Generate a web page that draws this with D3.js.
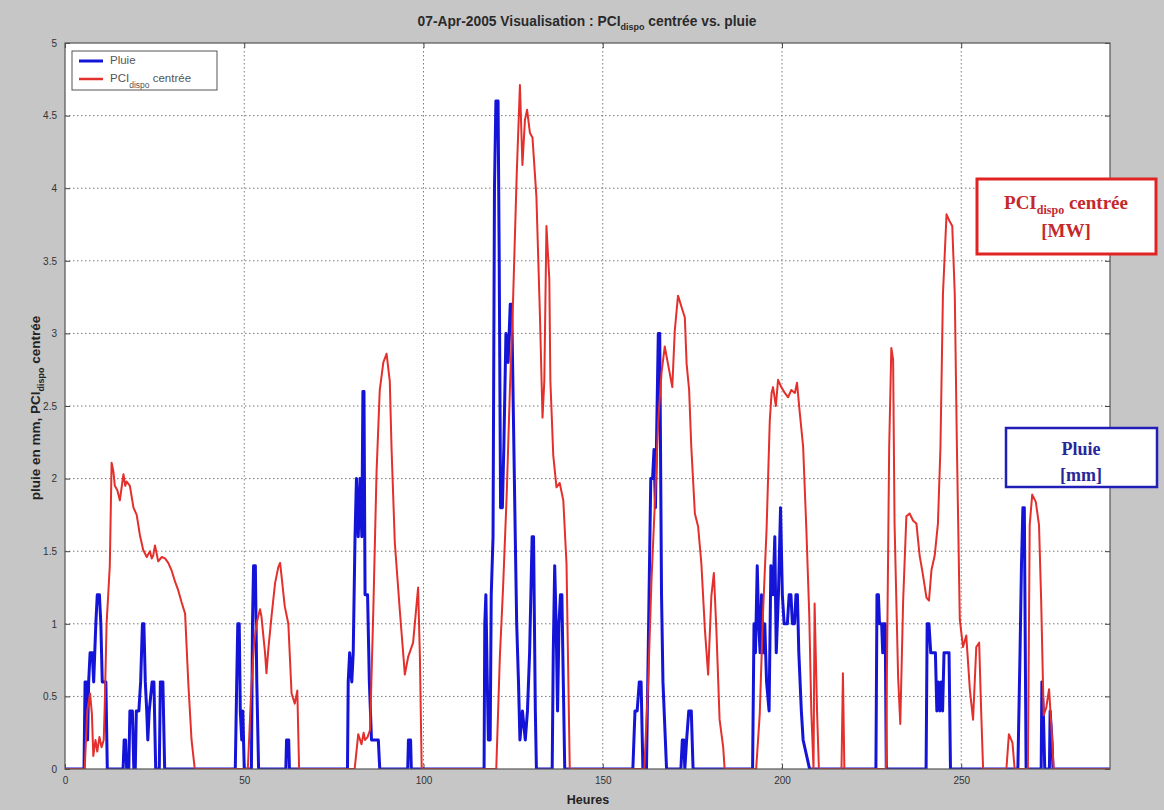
<!DOCTYPE html>
<html>
<head>
<meta charset="utf-8">
<script src="https://cdn.jsdelivr.net/npm/d3@7"></script>
<style>
  html, body { margin: 0; padding: 0; background: #c6c6c6; }
  svg { display: block; }
</style>
</head>
<body>
<svg id="chart" width="1164" height="810"></svg>
<script>
// ---------- data ----------
const xTicks = [0, 50, 100, 150, 200, 250];
const yTicks = [0, 0.5, 1, 1.5, 2, 2.5, 3, 3.5, 4, 4.5, 5];
const xMax = 291.5;

const pluieHeures = [
  0, 5.3, 5.6, 6.0, 6.3, 6.6, 7.0, 7.6, 8.0, 8.6, 9.0, 9.6, 10.0, 10.4, 11.4, 11.8,
  16.2, 16.5, 16.9, 17.2, 17.8, 18.1, 18.8, 19.2, 19.6, 19.9, 20.6, 21.1, 21.6, 22.0, 22.4, 22.8, 23.1, 23.5, 24.3, 24.8, 25.3, 26.3, 26.6, 27.3, 27.8,
  47.5, 47.9, 48.2, 48.6, 48.9, 49.3, 49.6, 50.0, 52.0, 52.3, 52.6, 53.1, 53.5, 54.0, 61.6, 61.8, 62.4, 62.6,
  78.8, 79.0, 79.4, 80.0, 80.4, 80.9, 81.3, 81.8, 82.3, 82.8, 83.1, 83.4, 83.7, 84.4, 84.9, 85.5, 87.4, 87.8, 95.6, 95.8, 96.4, 96.6,
  116.9, 117.1, 117.4, 117.8, 118.1, 118.6, 118.9, 119.4, 119.8, 120.2, 120.8, 121.1, 121.5, 122.0, 122.4, 123.0, 123.6, 124.2, 124.6, 125.1, 125.6, 126.0, 126.5, 126.9, 127.6, 128.4, 129.0, 129.6, 130.3, 130.7, 131.2, 131.5,
  135.9, 136.2, 136.6, 137.0, 137.4, 137.8, 138.2, 138.6, 139.0, 139.4,
  158.4, 159.0, 159.6, 160.2, 160.7, 161.2, 162.2, 162.8, 163.4, 163.9, 164.3, 164.7, 165.1, 165.5, 165.9, 166.4, 166.8, 167.8,
  171.8, 172.2, 172.6, 172.9, 173.4, 174.0, 174.7, 175.2,
  191.8, 192.2, 192.6, 193.1, 193.5, 193.9, 194.3, 194.8, 195.2, 195.7, 196.4, 196.9, 197.5, 198.0, 198.4, 199.0, 199.6, 200.1, 200.6, 201.5, 202.0, 202.5, 202.9, 203.5, 203.9, 204.3, 204.7, 205.4, 205.9, 206.8, 207.7,
  226.2, 226.5, 226.9, 227.2, 227.8, 228.1, 228.4, 228.8, 229.1,
  240.2, 240.5, 241.0, 241.5, 242.8, 243.2, 243.6, 244.0, 244.4, 244.8, 245.2, 246.6, 247.0,
  265.8, 266.4, 266.8, 267.2, 267.6, 268.1, 272.3, 272.5, 272.9, 273.3, 274.6, 274.8, 275.3, 275.6,
  291.5
];
const pluieMm = [
  0, 0, 0.6, 0.6, 0.2, 0.6, 0.8, 0.8, 0.6, 1.0, 1.2, 1.2, 1.0, 0.6, 0.6, 0,
  0, 0.2, 0.2, 0, 0, 0.4, 0.4, 0, 0, 0.4, 0.4, 0.6, 1.0, 1.0, 0.6, 0.4, 0.2, 0.4, 0.6, 0.6, 0, 0, 0.6, 0.6, 0,
  0, 0.6, 1.0, 1.0, 0.4, 0.2, 0.4, 0, 0, 1.0, 1.4, 1.4, 0.6, 0, 0, 0.2, 0.2, 0,
  0, 0.6, 0.8, 0.6, 0.8, 1.6, 2.0, 1.6, 2.0, 1.6, 2.6, 2.6, 1.2, 1.2, 0.6, 0.2, 0.2, 0, 0, 0.2, 0.2, 0,
  0, 1.0, 1.2, 0.6, 0.2, 0.2, 1.2, 1.6, 4.0, 4.6, 4.6, 3.6, 1.8, 1.8, 2.2, 3.0, 2.8, 3.2, 3.2, 2.4, 1.6, 1.0, 0.6, 0.2, 0.4, 0.2, 0.4, 0.8, 1.6, 1.6, 0.4, 0,
  0, 0.8, 1.4, 1.0, 0.4, 1.0, 1.2, 1.2, 0.6, 0,
  0, 0.4, 0.4, 0.6, 0.6, 0, 0, 1.0, 2.0, 2.0, 2.2, 1.8, 2.4, 3.0, 3.0, 1.2, 0.6, 0,
  0, 0.2, 0.2, 0, 0.2, 0.4, 0.4, 0,
  0, 1.0, 0.8, 1.4, 1.0, 0.8, 1.2, 0.8, 1.0, 0.6, 0.4, 1.4, 1.2, 1.6, 0.8, 1.2, 1.8, 1.2, 1.0, 1.0, 1.2, 1.2, 1.0, 1.0, 1.2, 1.2, 0.8, 0.4, 0.2, 0.1, 0,
  0, 1.2, 1.2, 1.0, 1.0, 0.8, 1.0, 1.0, 0,
  0, 1.0, 1.0, 0.8, 0.8, 0.4, 0.6, 0.4, 0.6, 0.4, 0.8, 0.8, 0,
  0, 0.8, 1.4, 1.8, 1.8, 0, 0, 0.6, 0.4, 0, 0, 0.4, 0.2, 0,
  0
];

const pciHeures = [
  0, 5.5, 6.2, 7.0, 7.5, 7.9, 8.5, 9.0, 9.6, 10.2, 10.8, 11.1, 11.6, 12.5, 13.0, 13.5, 13.9, 14.6, 15.3, 16.3, 16.8, 17.2, 18.1, 19.1, 20.0, 20.9, 21.8, 22.8, 23.7, 24.2, 24.6, 25.1, 26.0, 27.0, 27.9, 28.8, 29.7, 30.7, 31.6, 32.5, 33.5, 34.4, 35.3, 36.2,
  51.0, 52.0, 52.7, 53.4, 54.4, 54.8, 55.8, 56.2, 56.7, 57.6, 58.6, 59.5, 60.0, 60.4, 61.3, 62.3, 63.2, 64.1, 64.8, 65.3,
  80.8, 81.8, 82.7, 83.3, 83.7, 84.4, 85.1, 86.0, 86.9, 87.8, 88.8, 89.7, 90.6, 91.1, 92.0, 93.4, 94.8, 95.7, 97.1, 98.5, 99.0, 99.5,
  120.3, 121.3, 122.2, 123.2, 124.1, 125.0, 126.0, 126.9, 127.6, 128.3, 128.9, 129.7, 130.4, 131.5, 132.5, 133.2, 133.7, 134.3, 135.1, 135.4, 136.2, 137.1, 138.0, 139.0, 139.9, 140.8,
  161.6, 162.7, 163.6, 164.5, 165.5, 166.4, 167.3, 168.2, 169.4, 170.1, 171.0, 172.0, 172.9, 173.4, 174.1, 174.7, 175.7, 176.6, 177.5, 178.5, 179.4, 180.3, 181.0, 181.7, 182.6, 183.6, 184.0,
  192.8, 193.8, 194.7, 195.7, 196.6, 197.1, 197.5, 198.3, 198.9, 199.8, 200.8, 201.7, 202.6, 203.6, 204.2, 204.9, 205.9, 206.8, 207.6, 208.2, 208.8, 209.1, 209.8, 210.3,
  216.6, 217.0, 217.4,
  229.0, 229.9, 230.5, 231.0, 231.4, 232.4, 233.0, 233.8, 234.7, 235.6, 236.6, 237.5, 238.4, 239.3, 240.3, 241.0, 241.7, 242.6, 243.5, 244.2, 244.9, 245.9, 246.8, 247.5, 248.2, 248.8, 249.6, 250.5, 251.4, 252.4, 253.3, 254.2, 255.0, 255.6, 256.1,
  262.6, 263.3, 264.3, 264.9, 268.6, 269.1, 269.8, 270.8, 271.7, 272.3, 273.0, 273.7, 274.5, 275.1, 275.8,
  291.5
];
const pciMw = [
  0, 0, 0.4, 0.52, 0.38, 0.09, 0.2, 0.12, 0.22, 0.15, 0.2, 0.45, 1.0, 1.4, 2.11, 2.05, 1.95, 1.92, 1.85, 2.03, 1.95, 1.98, 1.95, 1.80, 1.75, 1.61, 1.51, 1.46, 1.50, 1.45, 1.47, 1.54, 1.43, 1.46, 1.45, 1.42, 1.37, 1.29, 1.23, 1.15, 1.07, 0.59, 0.20, 0,
  0, 0.57, 0.85, 1.0, 1.10, 1.05, 0.80, 0.66, 0.82, 1.05, 1.28, 1.39, 1.42, 1.33, 1.12, 1.0, 0.52, 0.45, 0.54, 0,
  0, 0.24, 0.17, 0.25, 0.2, 0.22, 0.27, 1.09, 2.04, 2.61, 2.80, 2.86, 2.67, 2.20, 1.56, 1.09, 0.65, 0.77, 0.87, 1.25, 0.77, 0,
  0, 0.77, 1.25, 1.88, 2.61, 3.24, 4.09, 4.71, 4.16, 4.47, 4.54, 4.38, 4.35, 3.94, 3.11, 2.42, 2.67, 3.74, 3.37, 2.67, 2.16, 1.94, 1.97, 1.85, 1.41, 0,
  0, 0.61, 1.30, 1.81, 2.40, 2.73, 2.91, 2.79, 2.63, 3.02, 3.26, 3.18, 3.11, 2.79, 2.61, 2.22, 1.76, 1.67, 1.42, 0.96, 0.65, 1.19, 1.35, 0.96, 0.34, 0.15, 0,
  0, 0.38, 1.07, 1.65, 2.40, 2.59, 2.63, 2.50, 2.68, 2.63, 2.59, 2.56, 2.61, 2.59, 2.66, 2.47, 2.22, 1.65, 1.07, 0.38, 0, 1.14, 0.38, 0,
  0, 0.66, 0,
  0, 2.21, 2.90, 2.82, 1.69, 0.63, 0.31, 1.16, 1.74, 1.76, 1.71, 1.69, 1.47, 1.34, 1.18, 1.16, 1.37, 1.47, 1.69, 2.21, 3.27, 3.82, 3.77, 3.74, 3.27, 2.21, 1.03, 0.84, 0.92, 0.55, 0.34, 0.84, 0.87, 0.37, 0,
  0, 0.24, 0.18, 0, 0, 1.68, 1.89, 1.84, 1.68, 1.16, 0.37, 0.42, 0.55, 0.31, 0,
  0
];

const titleParts = ["07-Apr-2005 Visualisation : PCI", "dispo", " centrée vs. pluie"];
const yLabelParts = ["pluie en mm, PCI", "dispo", " centrée"];
const xLabel = "Heures";
const legendNames = [["Pluie", "", ""], ["PCI", "dispo", " centrée"]];

// ---------- layout ----------
const svg = d3.select("#chart");
const W = 1164, H = 810;
const L = 65, R = 1110, T = 43, B = 769;
const blue = "#1414d8", red = "#e3302c";

const x = d3.scaleLinear().domain([0, xMax]).range([L, R]);
const y = d3.scaleLinear().domain([0, 5]).range([B, T]);

svg.append("rect").attr("width", W).attr("height", H).attr("fill", "#c6c6c6");
svg.append("rect").attr("x", L).attr("y", T).attr("width", R - L).attr("height", B - T).attr("fill", "#ffffff");

// grid
const grid = svg.append("g");
grid.selectAll("line.gx").data(xTicks.filter(d => d > 0)).join("line")
  .attr("x1", d => x(d)).attr("x2", d => x(d)).attr("y1", T).attr("y2", B)
  .attr("stroke", "#7a7a7a").attr("stroke-width", 1).attr("stroke-dasharray", "1.5 2.5");
grid.selectAll("line.gy").data(yTicks.filter(d => d > 0 && d < 5)).join("line")
  .attr("y1", d => y(d)).attr("y2", d => y(d)).attr("x1", L).attr("x2", R)
  .attr("stroke", "#7a7a7a").attr("stroke-width", 1).attr("stroke-dasharray", "1.5 2.5");

// axes
const axB = d3.axisBottom(x).tickValues(xTicks).tickSize(-5).tickPadding(8).tickFormat(d3.format("d"));
const axL = d3.axisLeft(y).tickValues(yTicks).tickSize(-5).tickPadding(8).tickFormat(d => String(d));
const axT = d3.axisTop(x).tickValues(xTicks).tickSize(-5).tickFormat("");
const axR = d3.axisRight(y).tickValues(yTicks).tickSize(-5).tickFormat("");
function styleAxis(g) {
  g.select(".domain").remove();
  g.selectAll("line").attr("stroke", "#444");
  g.selectAll("text").attr("fill", "#333").attr("font-family", "Liberation Sans, Arial, sans-serif").attr("font-size", 10);
}
svg.append("g").attr("transform", `translate(0,${B})`).call(axB).call(styleAxis);
svg.append("g").attr("transform", `translate(${L},0)`).call(axL).call(styleAxis);
svg.append("g").attr("transform", `translate(0,${T})`).call(axT).call(styleAxis);
svg.append("g").attr("transform", `translate(${R},0)`).call(axR).call(styleAxis);

// lines
svg.append("clipPath").attr("id", "clip").append("rect")
  .attr("x", L).attr("y", T - 2).attr("width", R - L).attr("height", B - T + 2);
const line = d3.line().x(d => x(d[0])).y(d => y(d[1]));
const pluie = pluieHeures.map((h, i) => [h, pluieMm[i]]);
const pci = pciHeures.map((h, i) => [h, pciMw[i]]);
const plot = svg.append("g").attr("clip-path", "url(#clip)");
plot.append("path").datum(pluie).attr("d", line).attr("fill", "none")
  .attr("stroke", blue).attr("stroke-width", 3).attr("stroke-linejoin", "round");
plot.append("path").datum(pci).attr("d", line).attr("fill", "none")
  .attr("stroke", red).attr("stroke-width", 2).attr("stroke-linejoin", "round");

// frame
svg.append("rect").attr("x", L).attr("y", T).attr("width", R - L).attr("height", B - T)
  .attr("fill", "none").attr("stroke", "#555").attr("stroke-width", 1.2);

// text helper with subscript
function subText(t, parts, subSize, drop) {
  t.append("tspan").text(parts[0]);
  if (parts[1]) {
    t.append("tspan").attr("font-size", subSize).attr("dy", drop).text(parts[1]);
    t.append("tspan").attr("dy", -drop).text(parts[2]);
  }
  return t;
}

// title
const title = svg.append("text").attr("x", 587).attr("y", 26).attr("text-anchor", "middle")
  .attr("font-family", "Liberation Sans, Arial, sans-serif").attr("font-size", 13.8)
  .attr("font-weight", "bold").attr("fill", "#2a2a2a");
subText(title, titleParts, 9, 4);

// x label
svg.append("text").attr("x", 588).attr("y", 804).attr("text-anchor", "middle")
  .attr("font-family", "Liberation Sans, Arial, sans-serif").attr("font-size", 12.5)
  .attr("font-weight", "bold").attr("fill", "#222").text(xLabel);

// y label
const yl = svg.append("text").attr("transform", "translate(40,408) rotate(-90)").attr("text-anchor", "middle")
  .attr("font-family", "Liberation Sans, Arial, sans-serif").attr("font-size", 13.5)
  .attr("font-weight", "bold").attr("fill", "#222");
subText(yl, yLabelParts, 9, 4);

// legend
const lg = svg.append("g");
lg.append("rect").attr("x", 72).attr("y", 51).attr("width", 145).attr("height", 39)
  .attr("fill", "#fff").attr("stroke", "#555").attr("stroke-width", 1);
[[blue, 61, 3], [red, 79, 2.5]].forEach((c, i) => {
  lg.append("line").attr("x1", 79).attr("x2", 103).attr("y1", c[1]).attr("y2", c[1])
    .attr("stroke", c[0]).attr("stroke-width", c[2]);
  const t = lg.append("text").attr("x", 110).attr("y", c[1] + 3)
    .attr("font-family", "Liberation Sans, Arial, sans-serif").attr("font-size", 11.5).attr("fill", "#555");
  subText(t, legendNames[i], 8.5, 6);
});

// annotation boxes
const ann1 = svg.append("g");
ann1.append("rect").attr("x", 977).attr("y", 179).attr("width", 179).attr("height", 75)
  .attr("fill", "#fff").attr("stroke", "#e02424").attr("stroke-width", 3);
const a1 = ann1.append("text").attr("x", 1066).attr("y", 209).attr("text-anchor", "middle")
  .attr("font-family", "Liberation Serif, Times New Roman, serif").attr("font-size", 19)
  .attr("font-weight", "bold").attr("fill", "#c4292c");
subText(a1, ["PCI", "dispo", " centrée"], 12, 5);
ann1.append("text").attr("x", 1066).attr("y", 237).attr("text-anchor", "middle")
  .attr("font-family", "Liberation Serif, Times New Roman, serif").attr("font-size", 19)
  .attr("font-weight", "bold").attr("fill", "#c4292c").text("[MW]");

const ann2 = svg.append("g");
ann2.append("rect").attr("x", 1006).attr("y", 428).attr("width", 151).attr("height", 59)
  .attr("fill", "#fff").attr("stroke", "#2020b8").attr("stroke-width", 2.5);
ann2.append("text").attr("x", 1081).attr("y", 455).attr("text-anchor", "middle")
  .attr("font-family", "Liberation Serif, Times New Roman, serif").attr("font-size", 18)
  .attr("font-weight", "bold").attr("fill", "#27279a").text("Pluie");
ann2.append("text").attr("x", 1081).attr("y", 481).attr("text-anchor", "middle")
  .attr("font-family", "Liberation Serif, Times New Roman, serif").attr("font-size", 18)
  .attr("font-weight", "bold").attr("fill", "#27279a").text("[mm]");
</script>
</body>
</html>
